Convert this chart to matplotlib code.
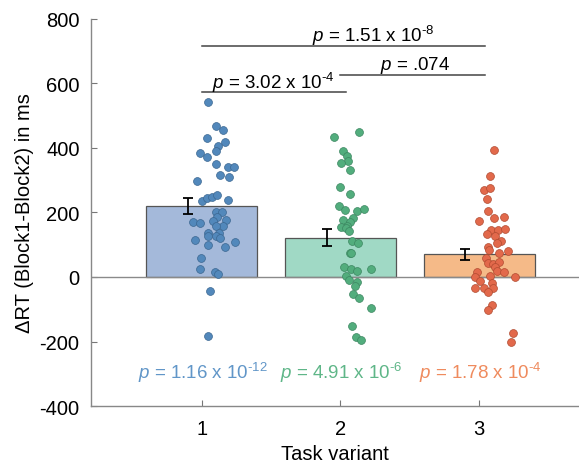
import matplotlib
matplotlib.use("Agg")
import matplotlib.pyplot as plt
import numpy as np

plt.rcParams['font.family'] = ['Liberation Sans', 'DejaVu Sans']
plt.rcParams['mathtext.fontset'] = 'custom'
plt.rcParams['mathtext.rm'] = 'Liberation Sans'
plt.rcParams['mathtext.it'] = 'Liberation Sans:italic'
plt.rcParams['axes.unicode_minus'] = False

# ---- data ----
categories = [1, 2, 3]
bar_means = [220, 122, 70]
bar_sem = [24, 26, 18]

vals1 = [544, 469, 457, 430, 419, 405, 390, 384, 373, 350, 341, 341, 316, 311, 297,
         237, 244, 249, 254, 240, 200, 203, 185, 176, 174, 170, 168, 157, 159,
         137, 135, 126, 126, 120, 115, 109, 100, 92, 59, 24, 16, 9, -43, -182]
jit1 = [0.046, 0.106, 0.151, 0.036, 0.169, 0.115, 0.101, -0.014, 0.036, 0.104, 0.193, 0.236,
        0.135, 0.2, -0.031, 0.005, 0.041, 0.077, 0.111, 0.193, 0.101, 0.147, 0.111, 0.178,
        0.082, -0.06, -0.009, 0.156, 0.106, 0.048, 0.125, 0.048, 0.104, 0.135, -0.045,
        0.241, 0.048, 0.169, -0.002, -0.012, 0.094, 0.118, 0.063, 0.043]

vals2 = [451, 434, 390, 376, 360, 354, 333, 279, 258, 221, 208, 206, 210, 182, 178, 170,
         159, 154, 152, 142, 112, 104, 74, 73, 32, 26, 20, 25, 4, -10, -15, -27, -53,
         -66, -95, -151, -185, -195]
jit2 = [0.135, -0.043, 0.017, 0.048, 0.056, 0.003, 0.072, -0.004, 0.068, -0.009, 0.032,
        0.118, 0.173, 0.092, 0.017, 0.072, 0.048, 0.007, 0.041, 0.063, 0.087, 0.128, 0.07,
        0.077, 0.027, 0.077, 0.12, 0.221, 0.043, 0.063, 0.12, 0.108, 0.089, 0.135, 0.221,
        0.082, 0.115, 0.149]

vals3 = [395, 314, 270, 275, 242, 205, 175, 184, 187, 147, 147, 149, 132, 128, 111, 105,
         93, 83, 73, 81, 58, 42, 40, 46, 30, 20, 16, 15, 4, 1, -1, -11, -20, -33, -35,
         -35, -47, -86, -103, -174, -203]
jit3 = [0.108, 0.081, 0.033, 0.076, 0.058, 0.065, 0.002, 0.108, 0.182, 0.089, 0.137, 0.19,
        0.058, 0.115, 0.161, 0.13, 0.065, 0.069, 0.144, 0.209, 0.05, 0.062, 0.101, 0.144,
        0.112, 0.13, -0.012, 0.177, 0.079, 0.257, -0.032, 0.009, 0.096, -0.027, 0.038,
        0.101, 0.067, 0.096, 0.065, 0.242, 0.23]

group_p = [r'$\mathit{p}$ = 1.16 x 10$^{\text{-12}}$',
           r'$\mathit{p}$ = 4.91 x 10$^{\text{-6}}$',
           r'$\mathit{p}$ = 1.78 x 10$^{\text{-4}}$']
pair_tests = [((1, 2), 573, r'$\mathit{p}$ = 3.02 x 10$^{\text{-4}}$'),
              ((2, 3), 627, r'$\mathit{p}$ = .074'),
              ((1, 3), 717, r'$\mathit{p}$ = 1.51 x 10$^{\text{-8}}$')]

bar_colors = ['#a4b9da', '#a0d9c5', '#f5ba88']
dot_colors = ['#5288bb', '#52ad7d', '#e2694b']
dot_edges = ['#3a6690', '#3b8660', '#b04a30']
text_colors = ['#6196c8', '#5fb688', '#ef8b5e']

fig = plt.figure(figsize=(5.79, 4.64), dpi=100)
ax = fig.add_axes([0.1567, 0.1228, 0.8433, 0.8342])

ax.bar(categories, bar_means, width=0.8, color=bar_colors, edgecolor='#555555',
       linewidth=0.9, zorder=1)
ax.axhline(0, color='#8a8a8a', lw=1.0, zorder=2)
ax.errorbar(np.array(categories) - 0.1, bar_means, yerr=bar_sem, fmt='none',
            ecolor='black', elinewidth=1.3, capsize=3.4, capthick=1.3, zorder=3)

for i, (vals, jit) in enumerate([(vals1, jit1), (vals2, jit2), (vals3, jit3)]):
    x = categories[i] + np.array(jit)
    ax.scatter(x, vals, s=32, color=dot_colors[i], edgecolor=dot_edges[i],
               linewidth=0.5, zorder=4)
    ax.text(categories[i] + 0.01, -295, group_p[i], color=text_colors[i],
            ha='center', va='center', fontsize=13.5)

for (a, b), y, lab in pair_tests:
    ax.plot([a, b + 0.04], [y, y], color='#444444', lw=1.1, clip_on=False)
ax.text(1.52, 605, pair_tests[0][2], ha='center', va='center', fontsize=13.5)
ax.text(2.54, 660, pair_tests[1][2], ha='center', va='center', fontsize=13.5)
ax.text(2.24, 750, pair_tests[2][2], ha='center', va='center', fontsize=13.5)

ax.set_xlim(0.2, 3.72)
ax.set_ylim(-400, 800)
ax.set_yticks([-400, -200, 0, 200, 400, 600, 800])
ax.set_xticks(categories)
ax.set_xticklabels(['1', '2', '3'])
ax.tick_params(direction='in', length=4, width=0.8, color='#777777',
               labelsize=14.5, pad=8)
ax.tick_params(axis='x', pad=9)
for s in ['top', 'right']:
    ax.spines[s].set_visible(False)
for s in ['left', 'bottom']:
    ax.spines[s].set_color('#888888')
    ax.spines[s].set_linewidth(1.0)
ax.set_xlabel('Task variant', fontsize=14.5, labelpad=5)
ax.set_ylabel('ΔRT (Block1-Block2) in ms', fontsize=14.5, labelpad=4)

fig.savefig('out.png', dpi=100)
